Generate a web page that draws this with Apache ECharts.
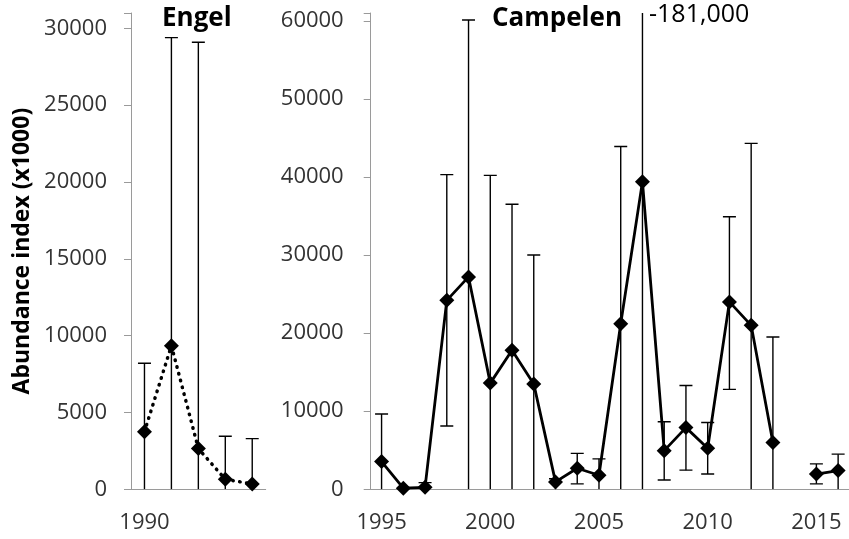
<!DOCTYPE html>
<html>
<head>
<meta charset="utf-8">
<title>Abundance index</title>
<script src="https://cdn.jsdelivr.net/npm/echarts@6/dist/echarts.min.js"></script>
<style>
  html, body { margin: 0; padding: 0; background: #fff; }
  #chart { width: 849px; height: 539px; }
</style>
</head>
<body>
<div id="chart"></div>
<script>
// Engel survey (dotted line)
var engelYears = ['1990', '1991', '1992', '1993', '1994'];
var engelIdx  = [3750, 9350, 2650, 650, 350];
var engelHigh = [8200, 29400, 29100, 3450, 3300];
var engelLow  = [null, null, null, null, null];   // null = bar runs below zero

// Campelen survey (solid line, no survey 2014)
var campYears = ['1995', '1996', '1997', '1998', '1999', '2000', '2001', '2002', '2003', '2004', '2005',
                 '2006', '2007', '2008', '2009', '2010', '2011', '2012', '2013', '2014', '2015', '2016'];
var campIdx  = [3550, 150, 250, 24200, 27200, 13600, 17800, 13500, 950, 2700, 1800,
                21200, 39400, 4950, 7900, 5250, 24000, 21000, 6000, null, 1950, 2400];
var campHigh = [9650, null, 850, 40300, 60100, 40200, 36500, 30000, 1350, 4600, 3900,
                43900, 181000, 8650, 13300, 8550, 34900, 44300, 19500, null, 3250, 4500];
var campLow  = [null, null, null, 8100, null, null, null, null, null, 700, null,
                null, null, 1200, 2450, 1950, 12800, null, null, null, 700, null];

var FONT = 'Open Sans';
var AXIS_GREY = '#9a9a9a';
var TEXT_GREY = '#333333';

function barData(high, low) {
  var out = [];
  high.forEach(function (h, i) {
    if (h == null) return;
    out.push([i, low[i] == null ? 0 : low[i], h, low[i] == null ? 0 : 1]);
  });
  return out;
}

function renderBar(params, api) {
  var x = api.value(0);
  var top = api.coord([x, api.value(2)]);
  var bot = api.coord([x, api.value(1)]);
  var half = 6.5;
  var st = { stroke: '#000', lineWidth: 1.4 };
  var kids = [
    { type: 'line', shape: { x1: top[0], y1: top[1], x2: bot[0], y2: bot[1] }, style: st },
    { type: 'line', shape: { x1: top[0] - half, y1: top[1], x2: top[0] + half, y2: top[1] }, style: st }
  ];
  if (api.value(3)) {
    kids.push({ type: 'line', shape: { x1: bot[0] - half, y1: bot[1], x2: bot[0] + half, y2: bot[1] }, style: st });
  }
  return { type: 'group', children: kids };
}

function xAx(idx, years) {
  return {
    type: 'category', gridIndex: idx, data: years, boundaryGap: true,
    axisLine: { lineStyle: { color: AXIS_GREY, width: 1 } },
    axisTick: { interval: 0, length: 8, lineStyle: { color: AXIS_GREY } },
    axisLabel: { interval: 4, fontSize: 22, fontFamily: FONT, color: TEXT_GREY, margin: 22 }
  };
}

function yAx(idx, max, step, margin) {
  return {
    type: 'value', gridIndex: idx, min: 0, max: max, interval: step,
    splitLine: { show: false },
    axisLine: { show: true, lineStyle: { color: AXIS_GREY, width: 1 } },
    axisTick: { show: true, length: 7, lineStyle: { color: AXIS_GREY } },
    axisLabel: {
      fontSize: 22, fontFamily: FONT, color: TEXT_GREY, margin: margin,
      formatter: function (v) { return v % step === 0 ? String(v) : ''; }
    }
  };
}

var chart = echarts.init(document.getElementById('chart'));

var leftY = yAx(0, 31000, 5000, 24);
leftY.name = 'Abundance index (x1000)';
leftY.nameLocation = 'middle';
leftY.nameRotate = 90;
leftY.nameGap = 97;
leftY.nameTextStyle = { fontSize: 23, fontWeight: 'bold', fontFamily: FONT, color: '#000' };

chart.setOption({
  animation: false,
  backgroundColor: '#fff',
  title: [
    { text: 'Engel', left: 162, top: 6, padding: 0,
      textStyle: { fontSize: 26, fontWeight: 'bold', fontFamily: FONT, color: '#000' } },
    { text: 'Campelen', left: 492, top: 6, padding: 0,
      textStyle: { fontSize: 26, fontWeight: 'bold', fontFamily: FONT, color: '#000' } }
  ],
  grid: [
    { left: 131, top: 13, width: 134.7, bottom: 49.7 },
    { left: 370.7, top: 13, width: 483.3, bottom: 49.7 }
  ],
  xAxis: [xAx(0, engelYears), xAx(1, campYears)],
  yAxis: [leftY, yAx(1, 61000, 10000, 27)],
  graphic: [
    { type: 'text', left: 649, top: 2,
      style: { text: '-181,000', fontSize: 25, fontFamily: FONT, fill: '#000' } }
  ],
  series: [
    {
      type: 'custom', xAxisIndex: 0, yAxisIndex: 0, clip: true, z: 1,
      renderItem: renderBar, data: barData(engelHigh, engelLow)
    },
    {
      type: 'custom', xAxisIndex: 1, yAxisIndex: 1, clip: true, z: 1,
      renderItem: renderBar, data: barData(campHigh, campLow)
    },
    {
      type: 'line', xAxisIndex: 0, yAxisIndex: 0, z: 3, data: engelIdx,
      symbol: 'diamond', symbolSize: 15, showAllSymbol: true,
      itemStyle: { color: '#000' },
      lineStyle: { color: '#000', width: 3.5, type: [0.5, 6.5], cap: 'round' }
    },
    {
      type: 'line', xAxisIndex: 1, yAxisIndex: 1, z: 3, data: campIdx,
      symbol: 'diamond', symbolSize: 15, showAllSymbol: true, connectNulls: false,
      itemStyle: { color: '#000' },
      lineStyle: { color: '#000', width: 2.8 }
    }
  ]
});
</script>
</body>
</html>
